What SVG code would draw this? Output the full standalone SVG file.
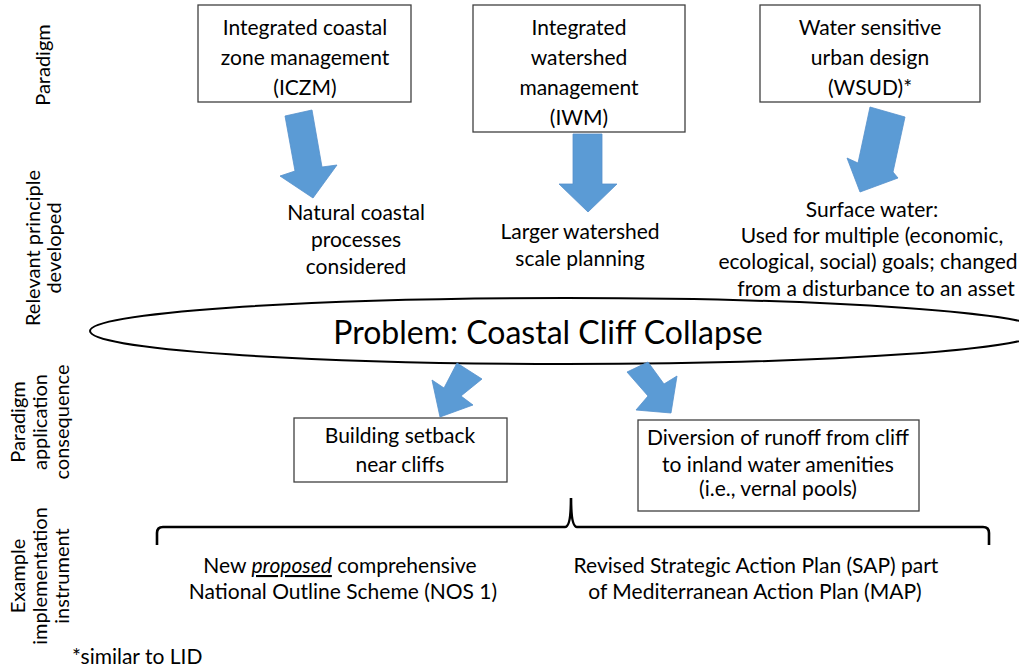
<svg xmlns="http://www.w3.org/2000/svg" width="1019" height="669" viewBox="0 0 1019 669">
<style>
text{font-family:Lato,"Liberation Sans",sans-serif;font-size:21px;fill:#000;}
.c{text-anchor:middle;}
.side{font-size:20px;}
.box{fill:#fff;stroke:#404040;stroke-width:1.3;}
.arrow{fill:#5b9bd5;stroke:#5590cc;stroke-width:0.8;}
.brace{fill:none;stroke:#000;stroke-width:2.6;}
</style>
<rect width="1019" height="669" fill="#fff"/>

<g id="labels">
<text class="c side" transform="translate(50,65) rotate(-90)">Paradigm</text>
<text class="c side" transform="translate(40,248) rotate(-90)">Relevant  principle</text>
<text class="c side" transform="translate(61,248) rotate(-90)">developed</text>
<text class="c side" transform="translate(25,422) rotate(-90)">Paradigm</text>
<text class="c side" transform="translate(47,422) rotate(-90)">application</text>
<text class="c side" transform="translate(69,422) rotate(-90)">consequence</text>
<text class="c side" transform="translate(25,576) rotate(-90)">Example</text>
<text class="c side" transform="translate(47,576) rotate(-90)">implementation</text>
<text class="c side" transform="translate(69,576) rotate(-90)">instrument</text>
<text x="72" y="664">*similar to LID</text>
</g>

<g id="iczm">
<rect class="box" x="198" y="5" width="213" height="97"/>
<text class="c" x="305" y="35">Integrated coastal</text>
<text class="c" x="305" y="65">zone management</text>
<text class="c" x="305" y="95">(ICZM)</text>
</g>
<g id="iwm">
<rect class="box" x="473" y="5" width="212" height="127"/>
<text class="c" x="579" y="35">Integrated</text>
<text class="c" x="579" y="65">watershed</text>
<text class="c" x="579" y="95">management</text>
<text class="c" x="579" y="125">(IWM)</text>
</g>
<g id="wsud">
<rect class="box" x="760" y="5" width="220" height="97"/>
<text class="c" x="870" y="35">Water sensitive</text>
<text class="c" x="870" y="65">urban design</text>
<text class="c" x="870" y="95">(WSUD)*</text>
</g>

<g id="principle-iczm">
<text class="c" x="356" y="220">Natural coastal</text>
<text class="c" x="356" y="247">processes</text>
<text class="c" x="356" y="274">considered</text>
</g>
<g id="principle-iwm">
<text class="c" x="580" y="239">Larger watershed</text>
<text class="c" x="580" y="266">scale planning</text>
</g>
<g id="principle-wsud">
<text class="c" x="872" y="217">Surface water:</text>
<text class="c" x="872" y="243">Used for multiple (economic,</text>
<text class="c" x="868" y="269">ecological, social) goals; changed</text>
<text class="c" x="876" y="296">from a disturbance to an asset</text>
</g>

<g id="problem">
<ellipse cx="566" cy="331" rx="476" ry="33" fill="#fff" stroke="#000" stroke-width="2"/>
<text class="c" x="548" y="344" style="font-size:32px">Problem: Coastal Cliff Collapse</text>
</g>

<g id="setback">
<rect class="box" x="294" y="418" width="213" height="64"/>
<text class="c" x="400" y="443">Building setback</text>
<text class="c" x="400" y="472">near cliffs</text>
</g>
<g id="diversion">
<rect class="box" x="638" y="420" width="281" height="91"/>
<text class="c" x="778" y="445">Diversion of runoff from cliff</text>
<text class="c" x="778" y="472">to inland water amenities</text>
<text class="c" x="778" y="496">(i.e., vernal pools)</text>
</g>

<g id="instrument-nos">
<text class="c" x="340" y="573">New <tspan font-style="italic" text-decoration="underline">proposed</tspan> comprehensive</text>
<text class="c" x="343" y="599">National Outline Scheme (NOS 1)</text>
</g>
<g id="instrument-sap">
<text class="c" x="756" y="573">Revised Strategic Action Plan (SAP) part</text>
<text class="c" x="755" y="599">of Mediterranean Action Plan (MAP)</text>
</g>

<g id="connectors">
<polygon class="arrow" points="285,116 312,110 322,167 337,165 313,198 280,176 295,171"/>
<polygon class="arrow" points="573,134 602,134 602,184 617,184 588,212 559,184 573,184"/>
<polygon class="arrow" points="870,107 905,117 893,172 898,178 860,192 847,158 858,163"/>
<polygon class="arrow" points="457,363 482,379 461,396 473,405 440,417 432,380 444,388"/>
<polygon class="arrow" points="627,372 648,362 664,384 677,376 671,413 636,410 648,396"/>
<path class="brace" d="M157,545 L157,533 Q157,527 163,527 L565,527 Q571,527 571,498 Q571,527 577,527 L983,527 Q989,527 989,533 L989,545"/>
</g>
</svg>
